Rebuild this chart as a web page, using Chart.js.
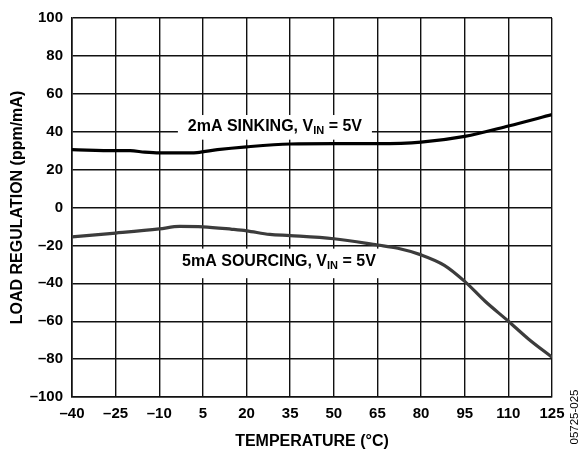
<!DOCTYPE html>
<html>
<head>
<meta charset="utf-8">
<script src="https://cdn.jsdelivr.net/npm/chart.js@4/dist/chart.umd.min.js"></script>
<style>
  html, body { margin: 0; padding: 0; background: #fff; }
  #wrap { width: 585px; height: 456px; position: relative; }
</style>
</head>
<body>
<div id="wrap"><canvas id="grafik" width="585" height="456"></canvas></div>
<script>
// ====== DATA ======
const suhuSinking = [-40, -25, -20, -15, -10, -3, 3, 10, 20, 35, 50, 65, 80, 95, 110, 125];
const nilaiSinking = [30.5, 30, 30, 29.2, 28.8, 28.8, 29, 30.5, 32, 33.5, 33.7, 33.7, 34.5, 37.5, 43, 49];

const suhuSourcing = [-40, -25, -10, -3, 5, 15, 20, 28, 35, 50, 65, 72, 80, 88, 95, 102, 110, 117, 125];
const nilaiSourcing = [-15.5, -13.5, -11.3, -10, -10.2, -11.5, -12.3, -14.2, -14.8, -16.5, -19.8, -21.5, -25, -30.5, -39, -49.5, -60, -69.5, -79];

const tickSuhu = [-40, -25, -10, 5, 20, 35, 50, 65, 80, 95, 110, 125];
const tickRegulasi = [-100, -80, -60, -40, -20, 0, 20, 40, 60, 80, 100];

const FONT = "'Liberation Sans', Arial, sans-serif";

function keTitik(xs, ys) {
  return xs.map((x, i) => ({ x: x, y: ys[i] }));
}

function labelMinus(v) {
  return v < 0 ? "\u2013" + Math.abs(v) : String(v);
}

// Tulis label dengan subscript "IN"
function tulisLabel(ctx, teks1, sub, teks2, cx, cy) {
  const fBesar = "bold 16px " + FONT;
  const fKecil = "bold 11px " + FONT;
  ctx.font = fBesar;
  const w1 = ctx.measureText(teks1).width;
  const w3 = ctx.measureText(teks2).width;
  ctx.font = fKecil;
  const w2 = ctx.measureText(sub).width;
  let x = cx - (w1 + w2 + w3) / 2;
  ctx.fillStyle = "#000";
  ctx.textBaseline = "middle";
  ctx.textAlign = "left";
  ctx.font = fBesar;
  ctx.fillText(teks1, x, cy);
  x += w1;
  ctx.font = fKecil;
  ctx.fillText(sub, x, cy + 5);
  x += w2;
  ctx.font = fBesar;
  ctx.fillText(teks2, x, cy);
}

const pluginLabel = {
  id: "pluginLabel",
  beforeDatasetsDraw(chart) {
    const ctx = chart.ctx;
    const sx = chart.scales.x;
    const sy = chart.scales.y;
    ctx.save();
    // kotak putih label sinking
    let xa = sx.getPixelForValue(-3.6);
    let xb = sx.getPixelForValue(63.1);
    let ya = sy.getPixelForValue(48.8);
    let yb = sy.getPixelForValue(35.8);
    ctx.fillStyle = "#fff";
    ctx.fillRect(xa, ya, xb - xa, yb - ya);
    tulisLabel(ctx, "2mA SINKING, V", "IN", " = 5V", (xa + xb) / 2, (ya + yb) / 2 - 1);

    // kotak putih label sourcing
    xa = sx.getPixelForValue(-3.6);
    xb = sx.getPixelForValue(65.9);
    ya = sy.getPixelForValue(-21.7);
    yb = sy.getPixelForValue(-37.3);
    ctx.fillStyle = "#fff";
    ctx.fillRect(xa, ya, xb - xa, yb - ya);
    tulisLabel(ctx, "5mA SOURCING, V", "IN", " = 5V", (xa + xb) / 2, (ya + yb) / 2 - 2);
    ctx.restore();
  },
  afterDraw(chart) {
    const ctx = chart.ctx;
    ctx.save();
    ctx.translate(575, 417);
    ctx.rotate(-Math.PI / 2);
    ctx.font = "11.5px " + FONT;
    ctx.fillStyle = "#000";
    ctx.textAlign = "center";
    ctx.textBaseline = "middle";
    ctx.fillText("05725-025", 0, 0);
    ctx.restore();
  }
};

const ctx = document.getElementById("grafik").getContext("2d");
new Chart(ctx, {
  type: "line",
  data: {
    datasets: [
      {
        label: "2mA SINKING",
        data: keTitik(suhuSinking, nilaiSinking),
        borderColor: "#000",
        borderWidth: 3.2,
        pointRadius: 0,
        cubicInterpolationMode: "monotone",
        fill: false,
      },
      {
        label: "5mA SOURCING",
        data: keTitik(suhuSourcing, nilaiSourcing),
        borderColor: "#3c3c3c",
        borderWidth: 3.2,
        pointRadius: 0,
        cubicInterpolationMode: "monotone",
        fill: false,
      },
    ],
  },
  options: {
    responsive: false,
    animation: false,
    events: [],
    layout: { padding: { left: 0, top: 14, right: 33, bottom: 0 } },
    plugins: {
      legend: { display: false },
      tooltip: { enabled: false },
    },
    scales: {
      x: {
        type: "linear",
        min: -40,
        max: 125,
        afterFit(scale) { scale.height = 59; },
        afterBuildTicks(scale) { scale.ticks = tickSuhu.map((v) => ({ value: v })); },
        grid: { color: "#111", lineWidth: 1.4, drawTicks: false },
        border: { color: "#111", width: 1.6 },
        ticks: {
          padding: 8,
          color: "#000",
          font: { family: FONT, size: 15, weight: "bold" },
          callback: labelMinus,
          maxRotation: 0,
        },
        title: {
          display: true,
          text: "TEMPERATURE (\u00B0C)",
          color: "#000",
          font: { family: FONT, size: 16, weight: "bold" },
          padding: { top: 6, bottom: 5 },
        },
      },
      y: {
        min: -100,
        max: 100,
        afterFit(scale) { scale.width = 72; },
        afterBuildTicks(scale) { scale.ticks = tickRegulasi.map((v) => ({ value: v })); },
        grid: { color: "#111", lineWidth: 1.4, drawTicks: false },
        border: { color: "#111", width: 1.6 },
        ticks: {
          padding: 9,
          color: "#000",
          font: { family: FONT, size: 15, weight: "bold" },
          callback: labelMinus,
        },
        title: {
          display: true,
          text: "LOAD REGULATION (ppm/mA)",
          color: "#000",
          font: { family: FONT, size: 16, weight: "bold" },
          padding: { top: 8, bottom: 0 },
        },
      },
    },
  },
  plugins: [pluginLabel],
});
</script>
</body>
</html>
